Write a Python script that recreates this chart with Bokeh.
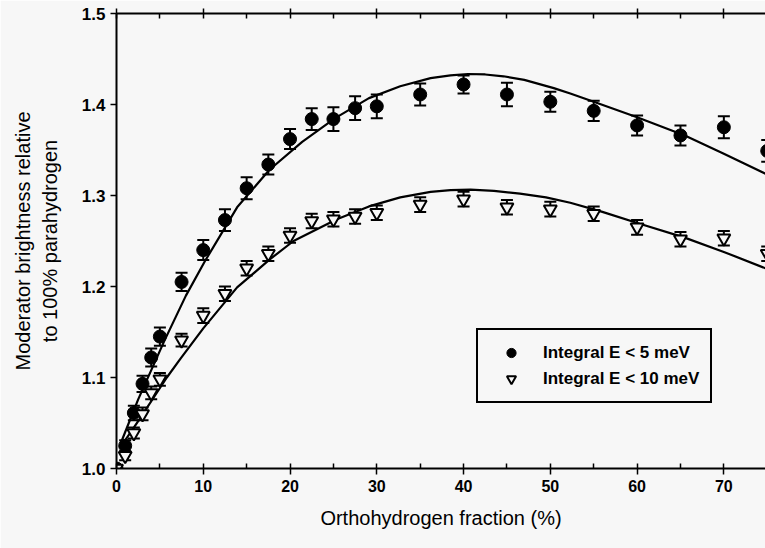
from bokeh.plotting import figure
from bokeh.models import (ColumnDataSource, LinearAxis, SingleIntervalTicker, Range1d,
                          Legend, LegendItem, PrintfTickFormatter, CustomLabelingPolicy)
from bokeh.embed import file_html
from bokeh.resources import INLINE

# ---- data ----
ortho_pct = [0, 1, 2, 3, 4, 5, 7.5, 10, 12.5, 15, 17.5, 20, 22.5, 25, 27.5, 30,
             35, 40, 45, 50, 55, 60, 65, 70, 75]
bright_5mev = [1.000, 1.025, 1.061, 1.093, 1.122, 1.145, 1.205, 1.240, 1.273, 1.308,
               1.334, 1.362, 1.384, 1.384, 1.396, 1.398, 1.411, 1.422, 1.411, 1.403,
               1.393, 1.377, 1.366, 1.375, 1.349]
err_5mev = [0.000, 0.006, 0.008, 0.009, 0.010, 0.010, 0.010, 0.011, 0.012, 0.012,
            0.011, 0.011, 0.012, 0.013, 0.013, 0.013, 0.012, 0.010, 0.013, 0.011,
            0.011, 0.011, 0.011, 0.012, 0.012]
bright_10mev = [1.000, 1.014, 1.039, 1.060, 1.083, 1.098, 1.141, 1.168, 1.192, 1.220,
                1.236, 1.256, 1.272, 1.274, 1.277, 1.281, 1.290, 1.296, 1.287, 1.285,
                1.280, 1.265, 1.252, 1.253, 1.236]
err_10mev = [0.000, 0.005, 0.006, 0.007, 0.007, 0.007, 0.007, 0.008, 0.008, 0.008,
             0.008, 0.008, 0.008, 0.008, 0.008, 0.008, 0.008, 0.008, 0.008, 0.008,
             0.008, 0.008, 0.008, 0.008, 0.008]

fit5_x = [0.5, 2.5, 5.5, 8, 10.2, 13.9, 17.6, 21.4, 25.2, 29.1, 32.7, 36.2, 38.5,
          40.5, 42.5, 44.6, 47, 50.4, 52.3, 55, 60, 65.5, 70, 74.8]
fit5_y = [1.028, 1.076, 1.140, 1.190, 1.228, 1.287, 1.328, 1.359, 1.385, 1.407, 1.420,
          1.429, 1.432, 1.4335, 1.433, 1.431, 1.427, 1.418, 1.412, 1.403, 1.386, 1.366,
          1.346, 1.324]
fit10_x = [0.5, 2.5, 5.8, 7.4, 10, 13.9, 17.7, 20.4, 23.1, 25.4, 29.1, 32.7, 36.2,
           38.5, 40.8, 43.5, 46.5, 49.5, 52.3, 56, 60.3, 65.4, 70, 74.8]
fit10_y = [1.024, 1.052, 1.100, 1.121, 1.154, 1.199, 1.230, 1.250, 1.263, 1.274, 1.288,
           1.298, 1.304, 1.306, 1.3065, 1.305, 1.302, 1.298, 1.292, 1.282, 1.269, 1.254,
           1.238, 1.220]

x_ticks_interval = 10
y_ticks_interval = 0.1

BG = "#f7f7f7"
FONT = "Liberation Sans"

src5 = ColumnDataSource(dict(
    x=ortho_pct, y=bright_5mev,
    lo=[v - e for v, e in zip(bright_5mev, err_5mev)],
    hi=[v + e for v, e in zip(bright_5mev, err_5mev)]))
src10 = ColumnDataSource(dict(
    x=ortho_pct, y=bright_10mev,
    lo=[v - e for v, e in zip(bright_10mev, err_10mev)],
    hi=[v + e for v, e in zip(bright_10mev, err_10mev)]))

p = figure(width=765, height=548, output_backend="svg", toolbar_location=None,
           x_range=Range1d(0, 74.8), y_range=Range1d(1.0, 1.5),
           x_axis_type=None, y_axis_type=None,
           min_border_left=116, min_border_right=0, min_border_top=13,
           min_border_bottom=80)
p.background_fill_color = BG
p.border_fill_color = BG
p.outline_line_color = None


def style_axis(ax):
    ax.axis_line_width = 2
    ax.axis_line_color = "black"
    ax.major_tick_line_width = 1.5
    ax.minor_tick_line_width = 1.5
    ax.major_tick_in = 0
    ax.major_tick_out = 6
    ax.minor_tick_in = 5
    ax.minor_tick_out = 0
    ax.major_label_text_font = FONT
    ax.major_label_text_font_style = "bold"
    ax.major_label_text_font_size = "16px"
    ax.major_label_text_color = "black"
    ax.axis_label_text_font = FONT
    ax.axis_label_text_font_style = "normal"
    ax.axis_label_text_font_size = "20px"
    ax.axis_label_text_color = "black"


xb = LinearAxis(ticker=SingleIntervalTicker(interval=x_ticks_interval, num_minor_ticks=2),
                axis_label="Orthohydrogen fraction (%)")
style_axis(xb)
xb.major_label_standoff = 5
xb.axis_label_standoff = 12
p.add_layout(xb, "below")

# top axis: ticks only, no labels
xt = LinearAxis(ticker=SingleIntervalTicker(interval=x_ticks_interval, num_minor_ticks=2),
                major_label_policy=CustomLabelingPolicy(
                    code="for (const i of indices) { if (false) yield i }"))
style_axis(xt)
xt.major_label_text_font_size = "2px"
xt.major_label_standoff = 0
xt.major_tick_out = 5
p.add_layout(xt, "above")

yl = LinearAxis(ticker=SingleIntervalTicker(interval=y_ticks_interval, num_minor_ticks=0),
                formatter=PrintfTickFormatter(format="%.1f"),
                axis_label="Moderator brightness relative\nto 100% parahydrogen")
style_axis(yl)
yl.minor_tick_line_color = None
yl.major_label_text_font_size = "17px"
yl.major_label_standoff = 5
yl.axis_label_standoff = 18
p.add_layout(yl, "left")

# fitted curves
p.line(fit5_x, fit5_y, line_color="black", line_width=2.2)
p.line(fit10_x, fit10_y, line_color="black", line_width=2.2)

# error bars
for src in (src5, src10):
    p.segment(x0="x", y0="lo", x1="x", y1="hi", source=src, line_color="black", line_width=2)
    p.scatter(x="x", y="lo", source=src, marker="dash", size=12, line_color="black", line_width=2)
    p.scatter(x="x", y="hi", source=src, marker="dash", size=12, line_color="black", line_width=2)

r5 = p.scatter(x="x", y="y", source=src5, marker="circle", size=13,
               fill_color="black", line_color="black", line_width=1)
r10 = p.scatter(x="x", y="y", source=src10, marker="inverted_triangle", size=13,
                fill_color=BG, line_color="black", line_width=2)

legend = Legend(items=[LegendItem(label="Integral E < 5 meV", renderers=[r5]),
                       LegendItem(label="Integral E < 10 meV", renderers=[r10])],
                location=(360, 65))
legend.border_line_color = "black"
legend.border_line_alpha = 1
legend.border_line_width = 2
legend.background_fill_color = BG
legend.background_fill_alpha = 1
legend.label_text_font = FONT
legend.label_text_font_size = "17px"
legend.label_text_font_style = "bold"
legend.label_text_color = "black"
legend.glyph_width = 44
legend.glyph_height = 23
legend.spacing = 3
legend.padding = 11
legend.label_standoff = 10
legend.margin = 0
p.add_layout(legend, "center")

open("out.html", "w").write(file_html(p, INLINE))
